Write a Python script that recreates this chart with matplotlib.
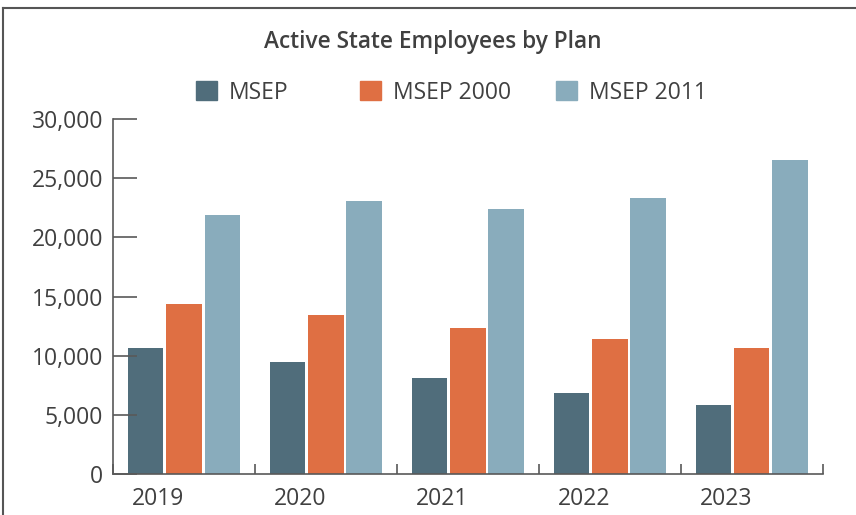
import matplotlib
matplotlib.use('Agg')
from matplotlib import pyplot as plt
from matplotlib.lines import Line2D
from matplotlib.patches import Patch
from matplotlib.ticker import FuncFormatter
from matplotlib.transforms import ScaledTranslation
import numpy as np

years = ['2019', '2020', '2021', '2022', '2023']
msep = [10650, 9490, 8140, 6870, 5860]
msep_2000 = [14400, 13470, 12370, 11440, 10680]
msep_2011 = [21920, 23100, 22430, 23360, 26570]

series_names = ['MSEP', 'MSEP 2000', 'MSEP 2011']
colors = ['#506d7b', '#df6f43', '#89acbc']
text_color = '#404040'
axis_color = '#595959'
fs = 16.5

plt.rcParams['font.family'] = ['Open Sans', 'DejaVu Sans']

fig = plt.figure(figsize=(8.56, 5.15), dpi=100)
ax = fig.add_axes([0.132, 0.079, 0.8294, 0.690])

x = np.arange(len(years))
width = 0.247
step = 0.268
for i, (vals, name, c) in enumerate(zip([msep, msep_2000, msep_2011], series_names, colors)):
    ax.bar(x + (i - 1) * step, vals, width=width, color=c, label=name)

ax.set_xlim(-0.5, len(years) - 0.5)
ax.set_ylim(0, 30000)
ax.set_yticks(np.arange(0, 30001, 5000))
ax.yaxis.set_major_formatter(FuncFormatter(lambda v, p: f'{int(v):,}'))
ax.tick_params(axis='y', direction='in', length=17, width=1.2, color=axis_color,
               labelsize=fs, labelcolor=text_color, pad=7)

# category labels (sitting a bit left of centre, as in the original), ticks at boundaries
ax.set_xticks(x)
ax.set_xticklabels(years)
ax.tick_params(axis='x', length=0, labelsize=fs, labelcolor=text_color, pad=9)
shift = ScaledTranslation(-0.26, 0, fig.dpi_scale_trans)
for lab in ax.get_xticklabels():
    lab.set_transform(lab.get_transform() + shift)
ax.set_xticks(np.arange(-0.5, len(years)), minor=True)
ax.tick_params(axis='x', which='minor', direction='in', length=7, width=1.2, color=axis_color)

for s in ['top', 'right']:
    ax.spines[s].set_visible(False)
for s in ['left', 'bottom']:
    ax.spines[s].set_color(axis_color)
    ax.spines[s].set_linewidth(1.2)

fig.text(0.506, 0.918, 'Active State Employees by Plan', ha='center', va='center',
         fontsize=16.3, fontweight='semibold', color=text_color)

# one legend per entry so each sits where the reference puts it
legend_x = [0.229, 0.4206, 0.6495]
for name, c, lx in zip(series_names, colors, legend_x):
    leg = fig.legend(handles=[Patch(color=c, label=name)], loc='center left',
                     bbox_to_anchor=(lx, 0.820), frameon=False, fontsize=fs,
                     labelcolor=text_color, borderpad=0, borderaxespad=0,
                     handlelength=0.92, handleheight=0.92, handletextpad=0.52)

# frame lines at top and left of the picture
fig.add_artist(Line2D([0.003, 1.0], [0.985, 0.985], transform=fig.transFigure, color='#555555', lw=1.5))
fig.add_artist(Line2D([0.003, 0.003], [0.0, 0.985], transform=fig.transFigure, color='#555555', lw=1.5))

fig.savefig('out.png', dpi=100)
